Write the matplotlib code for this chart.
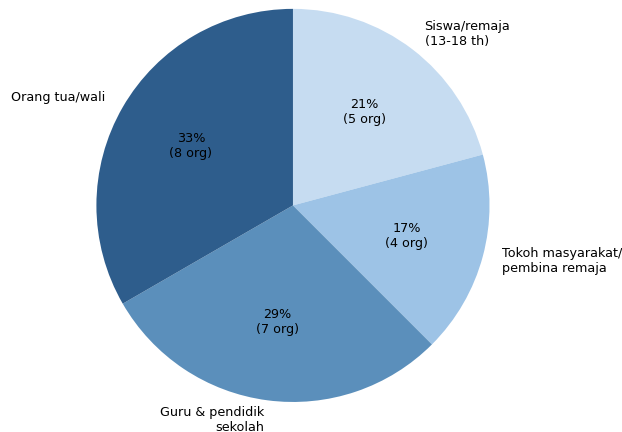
import matplotlib.pyplot as plt

# Data responden
labels = ['Siswa/remaja\n(13-18 th)', 'Tokoh masyarakat/\npembina remaja',
          'Guru & pendidik\nsekolah', 'Orang tua/wali']
counts = [5, 4, 7, 8]
colors = ['#c6dcf1', '#9dc3e6', '#5b8fbb', '#2e5d8c']

total = sum(counts)


def fmt(pct):
    n = int(round(pct * total / 100.0))
    return f'{pct:.0f}%\n({n} org)'


fig = plt.figure(figsize=(6.22, 4.32), dpi=100)
ax = fig.add_axes([0.155, 0.0685, 0.632, 0.912])
ax.pie(counts, labels=labels, colors=colors, startangle=90, counterclock=False,
       autopct=fmt, pctdistance=0.6, labeldistance=1.1,
       textprops={'fontsize': 9.2})
ax.set_xlim(-1, 1)
ax.set_ylim(-1, 1)
fig.savefig('out.png', dpi=100)
